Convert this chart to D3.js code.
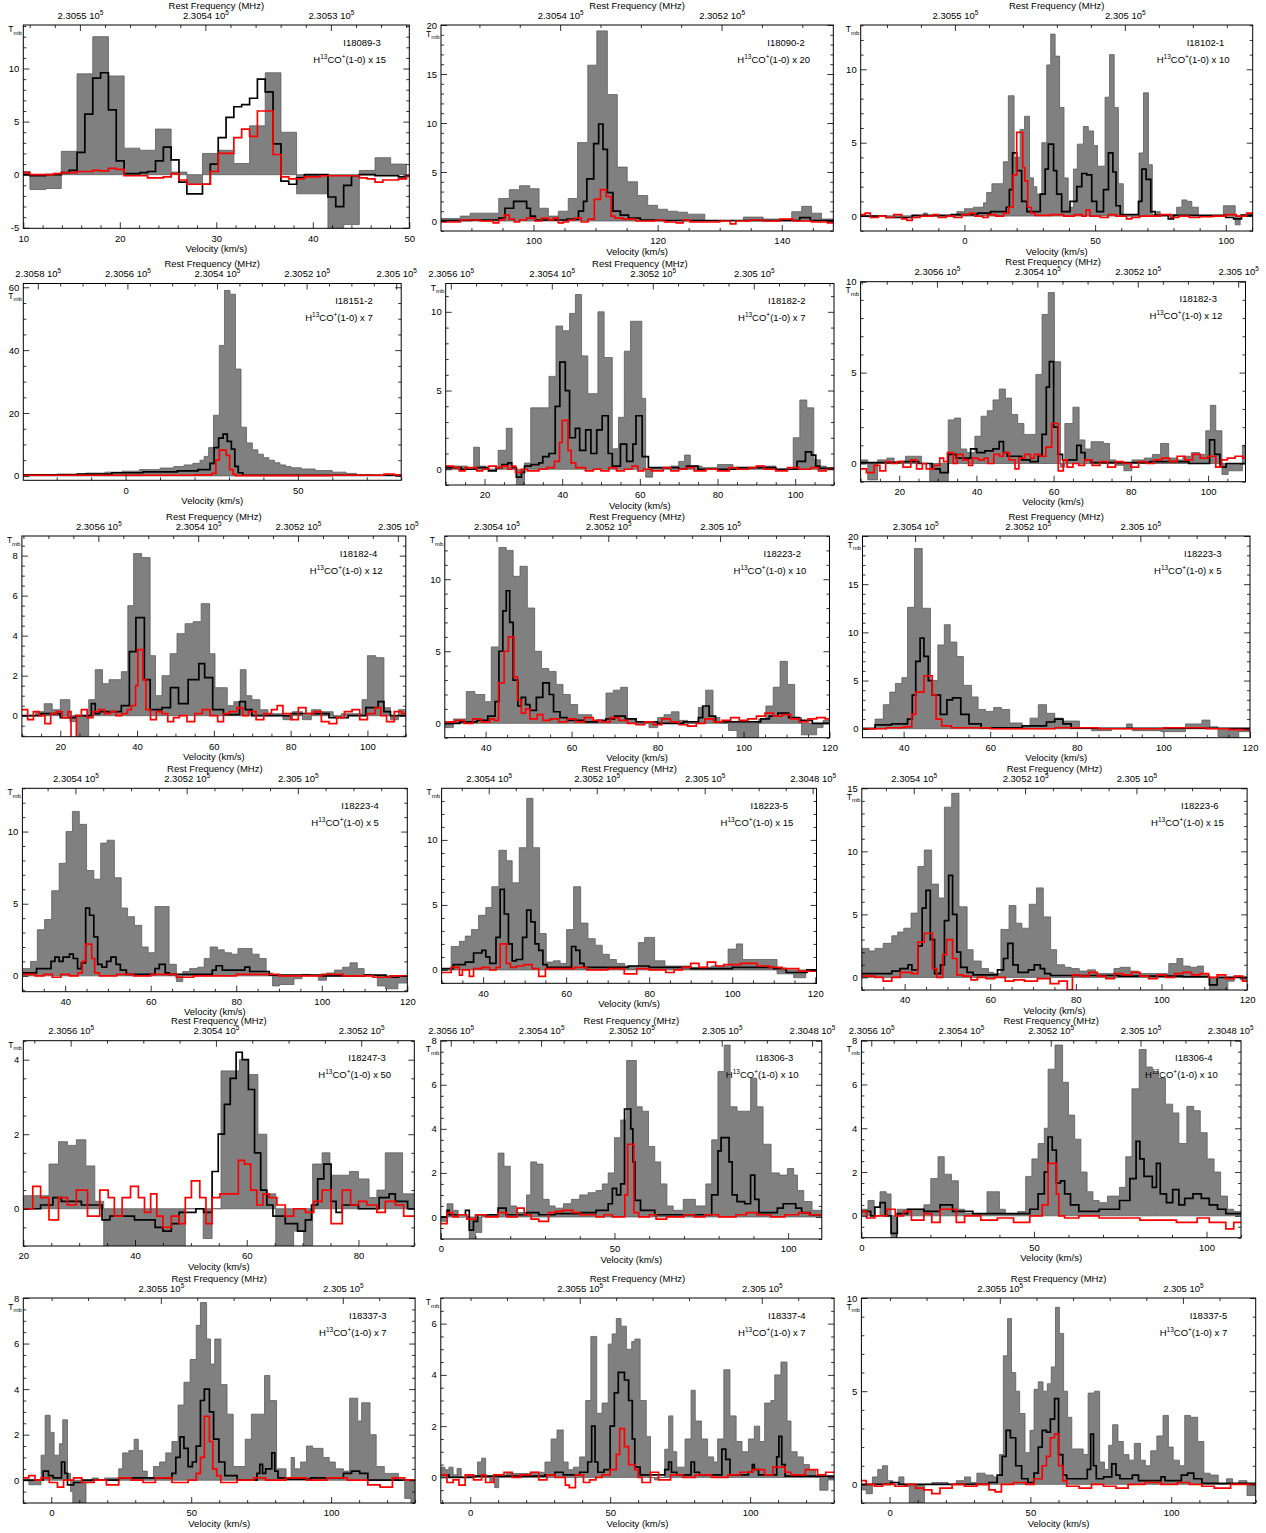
<!DOCTYPE html>
<html><head><meta charset="utf-8">
<script src="https://cdn.jsdelivr.net/npm/d3@7"></script>
<style>body{margin:0;background:#fff}svg text{font-family:"Liberation Sans",Arial,sans-serif;fill:#000}</style>
</head><body>
<svg id="c" width="1266" height="1533"></svg>
<script>
// ---------------- DATA ----------------
const panelNames = ['I18089-3','I18090-2','I18102-1','I18151-2','I18182-2','I18182-3','I18182-4','I18223-2','I18223-3','I18223-4','I18223-5','I18223-6','I18247-3','I18306-3','I18306-4','I18337-3','I18337-4','I18337-5'];
const lineFactors = [15,20,10,7,7,12,12,10,5,5,15,15,50,10,10,7,7,7];
const velDomains = [[10,50],[85.1,148.3],[-39.7,110.3],[-29.7,80],[10,110],[10,109.7],[10,110],[30.5,120],[30.5,120],[30,120],[30,120.3],[30,120],[20,90],[0,109.7],[0,110],[-10,130],[-10.5,130],[-10,130]];
const tmbDomains = [[-5.05,14.1],[-1.02,20],[-1.02,13.02],[-1.4,61.2],[-1,11.8],[-1,10],[-1.05,8.98],[-1,13],[-0.93,20],[-1.1,13],[-1.03,13.97],[-1,15],[-1,4.51],[-1,8],[-1,8],[-1,8],[-1,7],[-1,10]];
const velTickStep = [10,20,50,50,20,20,20,20,20,20,20,20,20,50,50,50,50,50];
const tmbTickStep = [5,5,5,20,5,5,2,5,5,5,5,5,2,2,2,2,2,5];
const freqAtV0 = [230562.2,230620.2,230547.2,230560.4,230568.7,230582.9,230583.0,230572.7,230572.8,230572.6,230571.8,230572.4,230581.9,230562.2,230562.2,230580.1,230580.1,230580.1];
const freqLabels = [
 [2.3055,2.3054,2.3053],[2.3054,2.3052],[2.3055,2.305],
 [2.3058,2.3056,2.3054,2.3052,2.305],[2.3056,2.3054,2.3052,2.305],[2.3056,2.3054,2.3052,2.305],
 [2.3056,2.3054,2.3052,2.305],[2.3054,2.3052,2.305],[2.3054,2.3052,2.305],
 [2.3054,2.3052,2.305],[2.3054,2.3052,2.305,2.3048],[2.3054,2.3052,2.305],
 [2.3056,2.3054,2.3052],[2.3056,2.3054,2.3052,2.305,2.3048],[2.3056,2.3054,2.3052,2.305,2.3048],
 [2.3055,2.305],[2.3055,2.305],[2.3055,2.305]];
const freqMinorMHz = [2,5,10,5,5,5,5,5,5,5,5,5,5,5,5,10,10,10];

// step spectra: [velocity of channel start, value]
const gray1=[[9.07,0.3],[10.69,-1.4],[12.32,-1.3],[13.94,2.2],[15.57,9.5],[17.2,13.0],[18.82,9.3],[20.45,2.5],[22.07,2.3],[23.7,4.3],[25.32,0.25],[26.95,-0.9],[28.57,2.0],[30.2,2.3],[31.82,1.05],[33.45,4.6],[35.07,9.6],[36.7,4.0],[38.32,-1.8],[41.57,-5.5],[43.2,-4.7],[44.82,0.4],[46.45,1.6],[48.07,1.0],[49.7,-0.2]];
const black1=[[9.07,0],[10.69,-0.1],[12.32,0],[13.94,0.2],[14.76,0.4],[15.57,2.1],[16.38,5.7],[17.2,9.1],[18.01,9.6],[18.82,6.1],[19.63,1.3],[20.45,0.1],[22.07,0.2],[22.88,0.3],[23.7,1.3],[24.51,2.6],[25.32,1.4],[26.13,-0.7],[26.95,-1.8],[28.57,-0.9],[29.38,1.0],[30.2,3.5],[31.01,5.4],[31.82,6.4],[32.63,6.6],[33.45,7.2],[34.26,9.0],[35.07,7.8],[35.88,2.9],[36.7,-0.6],[37.51,-0.9],[38.32,-0.3],[39.13,0],[41.57,-2.1],[42.38,-3.0],[43.2,-1.0],[44.01,-0.1],[44.82,0],[46.45,-0.1],[48.88,-0.2],[49.7,-0.1]];
const red1=[[9.07,0.3],[9.88,0.2],[10.69,0],[13.13,0.1],[13.94,0.2],[15.57,0.3],[17.2,0.4],[18.01,0.35],[18.82,0.6],[19.63,0.5],[20.45,-0.1],[22.88,-0.3],[24.51,-0.2],[25.32,0.1],[26.13,-0.5],[26.95,-0.9],[29.38,0.3],[30.2,2.0],[31.82,3.5],[32.63,4.3],[33.45,3.6],[34.26,6.0],[35.88,1.9],[36.7,-0.2],[37.51,-0.4],[39.13,-0.2],[40.76,-0.1],[44.82,-0.3],[45.63,-0.4],[46.45,-0.7],[47.26,-0.5],[48.88,-0.4],[49.7,-0.1]];

const gray2=[[85.1,0.25],[88.2,0.5],[89.8,0.8],[94.4,2.3],[96.1,3.2],[97.75,3.6],[99.4,3.3],[100.9,1.3],[102.4,0.5],[104.0,1.0],[105.6,2.3],[107.1,8.0],[108.75,15.9],[110.2,19.4],[111.9,12.9],[113.5,5.5],[115.1,4.0],[116.75,2.6],[118.4,1.6],[120.0,1.2],[121.6,1.0],[123.2,0.9],[124.8,0.7],[127.6,0.05],[133.8,0.4],[137.0,0.2],[141.6,0.95],[143.2,1.5],[144.8,0.8],[146.4,0.2]];
const black2=[[85.1,0.05],[90,0.1],[94.4,0.3],[95.4,1.3],[96.8,2.0],[98.9,1.3],[99.5,0.5],[100.3,0.1],[105.4,0.2],[107.25,1.0],[108.05,2.0],[108.6,4.3],[109.7,7.9],[110.5,9.9],[111.2,7.3],[111.9,2.9],[112.8,1.0],[114.0,0.6],[115.3,0.3],[117.2,0.1],[120,0.05],[142.9,0.35],[144.6,0.05]];
const red2=[[85.1,-0.1],[88.2,0.1],[91.4,0],[93.5,-0.2],[94.4,0.1],[95.3,0.6],[96.1,0.2],[96.9,-0.1],[97.75,0.1],[98.9,0.3],[100.3,0],[101.3,0.3],[102.4,0.1],[103.2,0.3],[104.0,-0.2],[104.8,-0.1],[105.6,0.1],[106.6,0.3],[107.7,-0.1],[108.8,0.2],[109.8,2.2],[110.8,3.2],[111.7,2.5],[112.5,0.5],[113.1,0.3],[114.4,0.2],[116.5,0],[119.7,0.1],[121.1,-0.1],[123,-0.2],[124.1,0.1],[125.2,-0.1],[130,0],[131.7,-0.3],[132.6,0],[134.8,0.1],[137,0],[139.7,0.2],[141.8,0],[144.8,-0.1],[147.4,-0.2]];

const gray3=[[-39.7,0],[-15.7,0.2],[-14.2,0],[-2.9,0.3],[0,0.5],[3.4,0.6],[7.3,0.9],[8.5,1.6],[10.5,2.2],[14.9,3.7],[16.8,8.2],[19.0,4.0],[21.3,5.9],[23.0,6.8],[24.9,2.6],[26.4,2.0],[27.7,1.5],[29.6,5.0],[31.5,10.3],[33.0,12.4],[34.7,10.9],[36.4,7.4],[38.1,2.6],[39.7,0.6],[41.7,3.2],[43.2,4.9],[45.5,6.1],[47.4,5.8],[49.4,4.8],[50.9,3.4],[53.8,8.1],[55.5,11.0],[57.3,7.4],[58.9,2.2],[60.8,0],[66.8,4.3],[68.5,8.4],[70.4,3.5],[71.9,0.1],[73.6,0.3],[74.9,0.1],[81.2,0.6],[83.2,1.1],[85.1,1.0],[87.0,0.6],[89.5,0],[99.1,0.7],[103.6,-0.6],[105.5,0.1]];
const black3=[[-39.7,0],[-30,-0.1],[-20,0.05],[-5,0.1],[5,0.2],[10,0.3],[16,0.6],[17.2,1.8],[18.4,4.3],[20.0,3.1],[21.9,1.0],[23.9,0.3],[29.0,1.5],[30.9,3.2],[32.1,4.9],[34.1,3.1],[35.3,1.5],[37.2,0.3],[40.4,1.0],[43.0,2.0],[44.9,2.9],[46.8,2.8],[48.7,1.0],[50.6,0.3],[53.2,1.8],[55.1,4.3],[56.8,3.0],[58.0,0.7],[59.6,0.1],[66.6,1.0],[67.9,3.2],[69.5,2.5],[71.3,0.3],[73.0,0.05],[78,-0.2],[80,0.05],[100,-0.1],[103,-0.2],[106,0.05]];
const red3=[[-39.7,0.1],[-38,0.2],[-36,-0.1],[-33,0],[-30,-0.1],[-27,0.1],[-24,-0.2],[-22,-0.3],[-20,-0.1],[-17,0],[-12,0.1],[-10,-0.1],[-7,0],[-4,-0.1],[-1,0.1],[2,0.2],[4,0],[7,-0.1],[9,0.1],[12,0],[15,0.2],[17,0.6],[18.6,2.8],[20.0,5.7],[22.3,3.3],[23.1,2.4],[24.2,0.6],[25.6,0.2],[27,0.05],[33,0.1],[38,0],[42,0.1],[45,0],[46.5,0.4],[48,0],[52,-0.1],[55,0.1],[58,0],[62,-0.2],[64,-0.1],[67,0],[75,0.1],[79,-0.1],[82,0],[86,-0.1],[90,-0.05],[95,0],[100,0.1],[104,0],[108,0.2]];

const gray4=[[-29.7,0.3],[-20,0.6],[-11.6,0.9],[-6,1.2],[-1,1.5],[4,2.0],[10,2.5],[14,3.0],[17,3.5],[19.5,4.0],[21.6,5.0],[22.8,6.2],[24.1,9.0],[25.5,19.3],[27.2,41.5],[28.7,59],[30.3,57.8],[31.9,34],[33.5,15.5],[35.1,10.5],[36.8,8.3],[38.4,6.9],[40,5.8],[41.6,5.0],[43.2,4.2],[44.8,3.5],[46.4,3.0],[48,2.6],[51,2.2],[55,1.7],[60,1.2],[64,0.8],[67,0.4],[72,0.2]];
const black4=[[-29.7,0.3],[-14,0.6],[-4,1.0],[5,1.3],[15,1.6],[21,2.0],[24.5,4.0],[25.7,9.0],[27.0,12.0],[28.3,13.3],[29.5,11.0],[30.7,8.5],[31.7,3.0],[32.7,1.0],[34,0.2]];
const red4=[[-29.7,0.2],[20,0.3],[25,0.8],[26.2,5.0],[27.2,8.2],[29.2,6.5],[30.2,2.0],[31.2,0.5],[32,0.1],[60,0.2],[75,0.6],[78,0.3]];

const gray5=[[10,0.2],[15.6,0],[17.2,1.4],[18.7,0.2],[20.3,0],[23.5,1.2],[25.6,2.6],[27.1,0],[28.2,-1.2],[30.3,0.4],[31.9,3.9],[36.6,5.9],[38.4,9.1],[40.1,8.8],[41.9,9.9],[43.4,11.1],[45.0,7.2],[46.6,4.8],[49.2,10.0],[50.8,7.1],[52.9,1.3],[54.5,3.3],[56.0,7.5],[57.6,9.4],[60.5,4.5],[61.5,-0.5],[63.3,0.1],[68,0.2],[70,0.5],[71.5,0.9],[73,0.2],[76,0.1],[80,0.3],[84,0.1],[90,0.2],[95,0.0],[99.5,2.0],[101.2,4.4],[103.0,3.9],[104.8,0.6],[106.5,0.2],[108,0.1]];
const black5=[[10,0.1],[14,0.0],[18,0.1],[21,-0.1],[23,0.1],[24.5,0.3],[26,0.4],[27,0.1],[28.2,-0.5],[29.5,-0.2],[30.3,0.2],[32,0.3],[34,0.4],[35,0.8],[36.6,1.0],[38.2,4.0],[39.4,6.8],[40.8,5.0],[41.9,2.0],[43.4,2.6],[44.5,1.2],[46.05,2.5],[47.4,1.0],[48.9,2.5],[50.3,3.4],[51.85,1.0],[52.9,0.2],[55,1.6],[56.6,0.5],[58.2,1.6],[59.0,3.4],[60.6,0.8],[62.2,0.1],[70,0.0],[72,0.2],[75,0],[85,0.1],[95,0.0],[100.5,0.5],[102.65,1.1],[104.2,0.9],[105.3,0.2],[106.3,0.05]];
const red5=[[10,0.2],[12,0.1],[13.5,-0.1],[15,0.1],[16.5,0.1],[18,-0.1],[19.5,0.0],[21,0.2],[23,0.1],[24.5,0.2],[26,0.0],[27,0.2],[28,-0.2],[29.5,0.0],[31,-0.1],[34,0.0],[36,0.1],[38,0.5],[39.3,1.7],[40.0,3.1],[41.5,1.2],[42.3,0.4],[43.5,0.1],[46,-0.1],[48,0],[50,-0.1],[52,0.1],[54,-0.1],[56,0],[58,0.2],[59.5,-0.1],[61,0],[63,-0.1],[66,0.1],[68,-0.1],[70,0.0],[72,0.1],[74,-0.1],[77,0],[80,-0.1],[83,0.1],[85,0],[88,0.1],[90,0.2],[92,0],[95,-0.1],[98,0.1],[101,0],[104,0.1],[106,-0.1],[108,0]];

const gray6=[[10,0.2],[11.85,-0.9],[14.4,0.2],[16.8,0.3],[18.7,0.1],[21.6,0.4],[25.8,0.0],[27.9,-1.5],[32.7,2.4],[34.3,2.5],[35.9,0.8],[37.5,0.6],[39.6,1.5],[41.2,2.6],[42.8,2.9],[44.3,3.5],[45.9,4.1],[47.5,3.6],[49.1,2.7],[50.7,2.2],[52.3,1.6],[55.4,4.9],[57.0,8.2],[58.6,9.4],[60.2,5.6],[61.8,-0.2],[62.9,2.2],[65.0,3.1],[66.6,1.3],[68.1,0.8],[69.7,1.2],[72.9,1.1],[74.5,0.2],[76.1,-0.1],[78.2,-0.4],[80.3,0.2],[83.5,0.3],[85.6,0.5],[87.7,1.1],[89.8,0.3],[92.0,0.2],[93.5,0.4],[95.7,0.6],[97.8,0.5],[99.4,1.8],[100.6,3.2],[102.0,1.8],[103.6,-0.6],[105.2,-0.4],[108.9,1.0]];
const black6=[[10,0.05],[20,0.1],[25,0.0],[28.5,-0.3],[30.6,-0.5],[32.7,0.5],[34.8,0.3],[38.5,0.8],[40.1,0.6],[42.2,0.7],[44.3,0.8],[45.9,1.2],[47.0,0.6],[48.0,0.4],[51.7,0.2],[53.9,0.1],[56.0,0.4],[57.0,1.6],[58.1,4.2],[58.9,5.6],[60.0,2.0],[61.1,0.5],[62.3,0.2],[66.0,1.0],[67.1,0.6],[68.1,0.2],[69.7,0.05],[85,0.1],[95,0.0],[100.4,1.3],[101.7,0.5],[103.1,-0.2],[104.7,0.0]];
const red6=[[10,-0.3],[11.5,-0.5],[13.5,-0.1],[15,-0.4],[16.5,0.1],[18,0.0],[19.5,0.1],[21,-0.2],[23,0.2],[24.5,-0.3],[26,0.0],[27,-0.3],[29,-0.1],[30.5,0.3],[31.5,0.1],[32.5,0.6],[34,0.0],[35,0.5],[36.5,0.2],[38,-0.1],[39,0.3],[40.5,0.2],[42,0.3],[43,0.0],[44.5,0.5],[46,0.4],[47,0.6],[48.5,0.2],[50,-0.3],[51,0.3],[52.5,0.5],[54,0.3],[55,0.5],[56.5,0.4],[58,0.9],[59.5,2.2],[61.2,-0.4],[62.5,0.2],[63.5,-0.2],[65,0.0],[66.5,-0.1],[68,0.2],[70,-0.1],[72,0.1],[74,-0.2],[76,0.1],[78,0.0],[80,-0.2],[82,0.1],[84,0.0],[86,0.2],[88,0.3],[90,0.1],[92,0.4],[94,0.2],[96,0.5],[98,0.3],[100,0.4],[102,-0.2],[103.5,0.2],[105,0.3],[107,0.4],[109,0.3]];

const gray7=[[10,0.0],[13.6,0.2],[15.8,0.6],[17.9,0.3],[20,0.8],[22.5,-0.3],[24.2,-1.2],[27.4,0.8],[29.1,2.3],[31.0,1.6],[32.7,1.8],[35.9,2.2],[37.6,5.5],[39.1,8.1],[41.2,7.9],[43.4,3.0],[44.8,1.0],[46.5,2.0],[48.6,3.1],[50.4,4.1],[52.5,4.6],[54.6,4.7],[56.7,5.6],[58.9,3.1],[60.3,1.4],[63.5,0.5],[65.2,0.7],[66.9,2.3],[68.4,1.0],[69.9,0.8],[72.0,0.3],[74.1,0.1],[78.0,-0.2],[80.5,0.2],[83.1,-0.2],[85.4,0.3],[87.9,0.2],[91.1,-0.1],[93.2,0.1],[98.6,0.8],[100.0,3.0],[102.2,2.9],[104.3,0.4],[106.0,-0.2],[108.1,0.3]];
const black7=[[10,0.0],[15,0.1],[20,-0.1],[24,0.0],[28.1,0.6],[29.1,0.1],[30.2,0.2],[35.9,0.5],[38.0,3.2],[39.7,4.9],[41.9,1.8],[43.4,0.3],[46.5,0.4],[48.7,1.4],[50.8,0.6],[53.3,1.8],[56.1,2.6],[57.6,1.9],[59.7,0.3],[62.5,0.05],[66.7,0.7],[68.2,0.3],[69.9,0.0],[80,0.1],[90,-0.1],[95,0.0],[99.6,0.4],[102.8,0.7],[104.3,0.2],[106,0.0]];
const red7=[[10,0.3],[11.5,-0.2],[13,0.2],[14.5,0.0],[16,-0.4],[17.5,0.1],[19,0.2],[20.5,-0.1],[22,0.2],[22.8,-1.2],[24.2,0.0],[25.5,0.3],[27,-0.1],[28.5,0.2],[30,0.3],[31.5,0.1],[33,0.2],[34.5,0.0],[36,0.1],[37.5,0.3],[38.5,0.5],[39.6,1.5],[40.2,3.3],[41.5,1.8],[42.3,0.3],[43.5,-0.2],[45,0.2],[46.5,0.1],[48,-0.3],[49.5,-0.1],[51,0.0],[53,-0.3],[55,0.1],[57,0.3],[59,0.0],[61,-0.3],[62.5,0.1],[64,0.2],[66,0.4],[67.5,0.0],[69,0.2],[71,-0.2],[73,0.1],[75,0.3],[76.5,0.5],[78,0.1],[80,-0.2],[82,0.4],[84,0.1],[86,0.2],[88,-0.3],[90,-0.4],[92,-0.1],[94,0.2],[96,0.3],[98,-0.2],[100,0.1],[102,0.4],[103.5,0.0],[105,-0.3],[107,0.2],[109,0.1]];

const gray8=[[30.5,-0.3],[32.5,0.3],[35.5,2.2],[37.5,2.0],[39.8,1.5],[41.3,5.3],[43.1,12.2],[44.8,12.0],[46.4,10.2],[48.0,10.9],[49.7,8.0],[51.4,5.0],[53.0,3.8],[54.7,3.6],[56.4,2.7],[58.0,2.0],[59.7,1.3],[61.4,0.6],[63.0,0.6],[64.7,0.1],[68.0,2.1],[69.7,2.3],[71.4,2.5],[73.0,0.3],[74.7,0.0],[78,-0.3],[80,0.4],[81.5,0.6],[83.2,0.8],[85,0.2],[87,0.0],[89.5,1.1],[91.2,2.3],[92.9,0.4],[94.5,0.0],[96.5,-0.5],[98.5,-1.2],[103.5,0.3],[105.2,1.2],[106.9,2.5],[108.5,4.3],[110.2,2.7],[111.9,0.4],[113.5,-0.8],[117,-0.3],[118.5,0.2]];
const black8=[[30.5,0.0],[34,0.1],[38,0.2],[40.5,0.5],[42.2,1.5],[43.1,5.0],[44.0,7.8],[44.8,9.2],[45.6,7.0],[46.4,3.0],[47.5,1.2],[48.3,1.8],[49.3,1.3],[50.3,0.9],[51.8,1.8],[53.3,2.8],[54.8,2.0],[55.8,0.8],[57.3,0.4],[59,0.2],[63,0.1],[66,0.2],[68,0.3],[70,0.5],[72.5,0.3],[75,0.1],[80,0.0],[86,0.1],[89.5,0.4],[90.5,1.2],[92,0.5],[93.5,0.1],[100,0.1],[104,0.3],[106,0.5],[108,0.7],[110.5,0.4],[113,0.2],[116,0.0]];
const red8=[[30.5,0.1],[33,0.2],[35,0.0],[37,0.3],[39,0.1],[41,0.3],[42,0.2],[43.0,2.8],[44.3,5.0],[45.3,6.0],[46.6,3.2],[47.4,1.6],[48.3,0.7],[49.3,1.0],[50.3,0.3],[52,0.6],[53.3,0.2],[55,0.3],[57,0.1],[59,0.3],[61,0.1],[63,0.4],[65,0.2],[67,0.1],[69,0.4],[71,0.2],[73,0.0],[75,-0.1],[77,0.1],[79,-0.1],[81,0.3],[83,0.1],[85,-0.1],[87,-0.2],[89,0.0],[91,0.3],[93,0.1],[95,0.2],[97,0.4],[99,0.2],[101,0.3],[103,0.5],[105,0.7],[107,0.5],[109,0.6],[111,0.3],[113,0.1],[115,0.3],[117,0.4],[119,0.3]];

const gray9=[[30.5,0.1],[33.4,1.0],[35.3,2.5],[36.8,3.8],[38.1,4.7],[39.6,5.3],[40.9,12.6],[42.5,18.7],[44.3,12.5],[46.2,5.0],[47.9,8.7],[49.4,10.8],[50.75,9.0],[52.3,7.5],[53.8,4.5],[55.7,3.3],[57.2,2.0],[58.9,1.8],[60.8,2.2],[62.6,2.0],[64.5,0.6],[67.4,0.2],[69.2,1.1],[71.1,2.5],[73.0,1.6],[74.9,1.1],[76.8,0.8],[80.6,0.1],[83.4,-0.2],[88,0.0],[91.5,0.5],[92.8,-0.2],[99.4,-0.3],[105.1,0.5],[108.9,0.9],[110.75,0.2],[112.6,-0.8],[114.5,-1.2],[117.4,-0.3]];
const black9=[[30.5,0.0],[33.4,0.4],[37.2,0.5],[40.9,1.0],[42.0,3.5],[42.8,7.0],[43.8,9.4],[44.7,7.5],[45.7,5.0],[46.6,3.5],[48.5,1.5],[50.0,3.0],[51.3,3.2],[53.2,1.5],[55.1,0.5],[57.9,0.1],[67.4,0.3],[73.0,0.7],[74.9,1.0],[76.8,0.5],[78.7,0.05]];
const red9=[[30.5,0.0],[36,0.1],[40,0.2],[41.9,1.5],[42.8,3.8],[44.7,5.5],[46.6,3.5],[47.5,1.0],[48.8,0.3],[51,0.1],[60,0.0],[75,0.1],[85,0.0],[100,0.1],[110,0.0],[115,-0.1]];

const gray10=[[30,0.5],[31.9,1.0],[33.5,3.2],[35.2,3.9],[36.85,5.9],[38.6,7.8],[40.2,10.0],[41.7,11.4],[43.3,10.5],[45.0,7.3],[46.7,6.7],[48.3,9.2],[49.8,9.4],[51.5,6.8],[53.1,4.7],[54.6,4.1],[56.2,3.5],[57.9,2.0],[59.4,1.6],[61.0,4.8],[62.6,4.8],[64.3,0.8],[66.0,-0.4],[67.5,0.3],[69.1,0.5],[71.0,0.6],[72.5,1.2],[73.9,2.0],[75.6,1.8],[77.2,1.6],[78.9,1.5],[80.4,1.9],[82.0,1.9],[83.7,1.5],[85.35,1.2],[87.0,0.2],[88.5,-0.7],[90.1,-0.6],[93.5,-0.2],[95.4,0.1],[97.3,0.0],[99.2,-0.3],[101.1,0.2],[103.0,0.4],[104.9,0.6],[106.6,0.9],[108.3,0.5],[109.9,0.1],[111.6,0.0],[113.0,-0.7],[114.9,-0.9],[117.8,-0.5]];
const black10=[[30,0.2],[33.3,0.5],[36.7,1.0],[37.6,1.3],[38.6,1.0],[39.5,1.3],[41.0,1.5],[41.9,1.2],[42.9,0.5],[43.8,0.9],[44.8,4.7],[45.7,4.2],[46.7,2.7],[47.6,0.8],[48.6,0.6],[49.7,1.0],[50.7,1.3],[51.9,0.8],[52.9,0.4],[54.3,0.1],[61.0,0.5],[62.0,0.8],[63.4,0.2],[64.3,0.1],[74.4,0.4],[75.3,0.7],[76.75,0.4],[82.0,0.6],[83.15,0.3],[87.7,0.05],[100,0.0],[110,0.05],[115,-0.1],[118,0.0]];
const red10=[[30,0.1],[33,0.0],[35,0.1],[37,-0.1],[39,0.1],[41,0.0],[43,0.2],[44,1.0],[44.8,2.2],[46.2,1.2],[46.9,0.2],[48,0.0],[52,0.1],[56,0.0],[60,0.1],[66,-0.1],[70,0.0],[80,0.1],[90,0.0],[100,0.1],[105,0.0],[112,-0.1],[116,0.0]];

const gray11=[[30,0.0],[32.3,1.8],[34.3,2.2],[35.7,2.6],[37.2,3.1],[38.9,4.2],[40.65,4.8],[42.1,6.4],[43.8,9.2],[45.6,8.4],[47.0,6.7],[48.7,9.4],[50.5,13.2],[52.0,9.4],[53.6,2.8],[55.2,0.6],[56.9,0.7],[58.55,0.5],[60.1,3.1],[61.8,6.4],[63.5,3.6],[65.25,2.4],[67.0,1.9],[68.7,1.2],[70.4,0.8],[72.1,0.5],[74.1,0.3],[77.4,2.1],[78.9,2.5],[81.3,0.7],[83.8,0.3],[90,0.2],[95,0.3],[99.0,1.6],[101.0,2.0],[102.5,0.8],[103.9,0.8],[110.8,-0.3],[114.8,-0.6],[117.7,0.0]];
const black11=[[30,0.1],[32.8,0.4],[35.7,0.6],[37.7,1.3],[39.7,1.5],[40.65,1.0],[41.6,0.5],[43.1,2.5],[44.1,6.2],[45.1,4.3],[46.1,2.0],[47.0,0.7],[48.0,0.8],[49.5,2.5],[50.5,4.6],[51.5,3.7],[52.5,2.0],[53.4,1.5],[54.4,0.4],[55.4,0.2],[61.3,1.8],[62.3,1.5],[63.3,0.5],[64.3,0.2],[75,0.3],[80,0.2],[90,0.1],[100,0.2],[110,0.1],[113,-0.2],[118,0.0]];
const red11=[[30,-0.2],[32.3,0.2],[34.3,-0.4],[35.0,0.0],[36.7,-0.5],[37.7,0.1],[39.7,0.2],[41.6,0.0],[43.1,0.2],[44.1,2.0],[45.6,0.5],[46.6,0.2],[48.0,0.3],[49.8,0.4],[51.8,0.1],[53.4,-0.5],[55.0,0.1],[58,0.1],[62,0.2],[65,0.0],[70,0.1],[74,-0.3],[77,0.1],[80,0.0],[84,-0.2],[86,0.0],[88,0.2],[90,0.5],[92,0.2],[94,0.6],[96,0.3],[98,0.4],[102,0.5],[106,0.3],[109,0.2],[112,0.1],[116,-0.1]];

const gray12=[[30,2.3],[31.7,2.1],[33.1,2.3],[35.0,2.7],[37.0,3.3],[38.4,3.6],[39.8,3.9],[41.5,5.1],[43.1,8.8],[44.6,10.1],[46.3,7.4],[47.9,6.3],[49.3,13.5],[51.0,14.6],[52.7,5.6],[54.6,2.2],[56.0,1.3],[57.9,0.7],[59.6,0.4],[60.8,0.3],[62.5,3.8],[64.4,5.7],[66.0,4.3],[67.4,3.9],[69.1,5.8],[70.8,7.1],[72.4,4.8],[74.1,2.2],[75.5,1.0],[77.4,0.8],[78.9,0.7],[80.8,0.5],[82.7,0.6],[84.6,0.3],[88.9,0.7],[90.3,0.8],[92.7,0.5],[94.6,0.3],[101.7,1.1],[103.6,1.5],[105.0,0.9],[106.7,0.8],[108.4,0.9],[109.8,0.2],[111.2,-1.3],[113.1,-1.0],[115.5,-0.3],[117.0,0.1],[118.4,-0.2]];
const black12=[[30,0.3],[37.0,0.5],[38.9,0.7],[40.8,1.0],[41.7,0.6],[43.1,2.5],[44.1,5.5],[45.0,6.9],[46.0,3.0],[47.0,0.3],[48.4,1.0],[49.3,4.5],[50.3,8.1],[51.2,5.0],[52.2,2.0],[53.1,0.8],[54.6,0.4],[56.0,0.2],[61.7,0.6],[63.1,1.5],[64.1,2.7],[65.3,1.0],[66.5,0.4],[68.9,0.6],[70.3,1.0],[71.7,0.7],[72.7,0.3],[74.1,0.15],[90,0.1],[105,0.05],[111.2,-0.6],[113,0.0]];
const red12=[[30,0.1],[33.1,0.0],[35.0,-0.3],[37.0,0.0],[39,0.4],[41.7,0.3],[43.1,2.8],[44.6,3.5],[46.5,0.7],[47.5,0.0],[48.9,1.8],[49.8,3.0],[51.2,1.5],[52.2,0.2],[53.6,0.1],[55.5,-0.2],[57,0.0],[59,-0.1],[61,0.0],[63.5,-0.3],[65.5,-0.2],[68,-0.3],[71,-0.1],[74,-0.5],[76,-0.3],[78,-1.0],[79.2,0.2],[81,0.1],[83,0.4],[85,0.1],[87,-0.1],[89,0.3],[91,0.2],[93,0.4],[95,0.1],[97,-0.1],[99,0.2],[101,0.0],[103,0.3],[105,0.4],[107,0.2],[109,0.3],[111,0.0],[113,0.2],[115,-0.1],[117,0.1],[119,-0.3]];

const gray13=[[20,0.35],[24.6,1.2],[26.3,1.8],[27.9,1.7],[29.5,1.85],[31.2,1.15],[32.8,0.2],[34.4,-1.5],[49.0,0.0],[52.2,-0.8],[53.8,0.0],[55.4,3.7],[58.7,4.0],[60.3,3.6],[62.0,2.0],[63.6,0.4],[65.2,-1.5],[68.4,-0.6],[70.2,-1.5],[71.8,1.2],[73.5,1.5],[74.9,0.9],[78.4,1.0],[80.0,0.8],[81.9,0.3],[83.3,0.5],[84.8,1.5],[87.9,0.4]];
const black13=[[20,0.0],[23.1,0.1],[25.3,0.3],[26.8,0.2],[30.4,0.1],[34.1,-0.3],[35.5,-0.2],[39.9,-0.3],[43.6,-0.5],[45.0,-0.6],[46.5,-0.4],[47.9,-0.1],[50.9,0.0],[52.3,-0.1],[53.8,1.0],[54.9,2.0],[56.0,2.8],[57.05,3.5],[58.1,4.2],[59.2,4.0],[60.3,3.2],[61.4,1.5],[62.5,0.5],[63.6,0.1],[64.7,-0.2],[66.9,-0.4],[69.1,-0.6],[70.5,-0.3],[71.6,0.1],[72.7,0.8],[73.8,1.2],[75.1,0.2],[76.0,-0.1],[77.1,0.1],[80.0,0.0],[83.7,0.3],[85.5,0.4],[86.6,0.2],[88.8,0.0]];
const red13=[[20,0.0],[21.7,0.6],[23.1,0.3],[24.6,-0.3],[26.3,0.3],[27.9,0.1],[29.5,0.5],[31.5,-0.2],[33.7,0.5],[35.2,0.3],[36.3,-0.2],[37.7,0.3],[39.2,0.6],[40.6,0.3],[41.7,-0.1],[42.8,0.4],[43.9,-0.2],[45.0,-0.5],[46.5,-0.2],[47.9,-0.4],[49.0,0.3],[50.1,0.75],[51.6,0.3],[52.7,-0.4],[53.8,0.3],[55.2,0.4],[58.5,1.3],[59.6,1.2],[60.7,0.5],[61.8,0.1],[62.9,0.4],[64.0,0.3],[65.4,0.1],[66.9,-0.2],[68.4,0.0],[70.5,-0.1],[72.0,0.2],[73.5,0.5],[75.1,-0.4],[77.1,0.5],[78.6,0.1],[80.0,0.2],[81.5,0.1],[83.3,-0.1],[84.8,0.2],[86.6,0.1],[88.1,-0.2]];

const gray14=[[0,-0.2],[1.8,0.6],[3.5,0.3],[5.0,0.0],[8.2,-1.5],[10.0,-0.7],[11.8,0.1],[16.5,2.9],[18.2,2.3],[20.0,0.5],[21.8,0.2],[24.7,1.0],[25.9,2.5],[27.6,2.4],[29.4,0.8],[31.2,0.5],[32.9,0.4],[35.3,0.6],[37.6,0.8],[40.0,1.0],[42.4,1.1],[44.7,1.2],[46.5,1.5],[48.2,2.0],[50.0,3.6],[51.8,4.4],[53.5,7.1],[56.3,5.0],[58.0,4.8],[59.8,3.2],[61.6,2.5],[63.3,1.5],[65.1,0.5],[66.9,0.3],[69.8,0.8],[73.3,0.5],[76.3,1.5],[78.0,3.5],[79.8,6.6],[81.6,7.8],[83.3,5.0],[85.3,4.8],[89.2,6.3],[91.0,5.0],[92.8,3.3],[95.1,2.0],[97.5,1.9],[99.8,2.2],[101.6,1.9],[102.7,1.2],[104.5,0.7],[106.9,0.3]];
const black14=[[0,0.0],[1.8,0.3],[2.4,0.1],[7.1,0.3],[8.2,-0.6],[9.4,-0.2],[10.6,0.1],[16.5,0.4],[18.8,0.1],[24.7,0.2],[28.2,0.1],[32.9,0.15],[40.0,0.2],[44.7,0.3],[48.2,0.6],[49.4,1.3],[50.6,1.0],[51.8,1.5],[52.9,4.9],[54.7,4.0],[55.3,2.5],[55.9,0.75],[57.5,0.3],[61.6,0.1],[78.0,1.0],[79.8,3.0],[80.7,3.6],[83.0,2.5],[83.9,1.0],[85.3,0.7],[87.5,0.6],[89.2,1.9],[90.4,0.8],[91.6,0.2],[96.9,0.4],[98.6,0.6],[102.2,0.4],[103.9,0.2],[106.3,0.1]];
const red14=[[0,-0.3],[1.8,0.2],[3.5,0.0],[5,0.1],[7.5,-0.1],[10,0.1],[13,0.0],[16.5,0.2],[19,0.0],[22,0.4],[24,0.1],[26,-0.1],[28.2,-0.2],[31,0.2],[33,0.25],[35,0.3],[38,0.2],[40,0.1],[44.7,0.0],[47,0.1],[49.4,0.0],[53.0,1.0],[53.8,3.3],[55.6,0.2],[57,0.0],[60,0.1],[62,-0.1],[65,0.0],[70,0.1],[73,0.0],[76,0.1],[80,0.0],[85,0.1],[88,0.2],[91,0.1],[95,0.0],[99,0.1],[103,0.2],[106,0.1]];

const gray15=[[0,0.3],[1.9,0.7],[3.7,0.0],[5.4,1.1],[7.2,1.0],[8.6,-1.5],[10.4,0.3],[18.1,0.5],[20.1,1.7],[22.2,2.7],[24.0,1.9],[26.1,1.6],[28.1,0.3],[29.9,0.1],[36.4,1.1],[38.2,1.1],[40.0,0.3],[41.7,0.1],[45.3,0.2],[47.6,1.8],[49.4,2.6],[51.2,3.3],[53.0,4.0],[54.1,6.7],[56.1,7.8],[58.3,6.1],[60.0,4.6],[61.8,3.5],[63.6,2.0],[65.4,1.1],[67.1,0.7],[68.9,0.6],[71.3,0.9],[74.8,1.3],[76.6,2.7],[78.4,5.8],[80.5,7.6],[82.5,6.8],[84.3,6.6],[86.05,6.3],[88.1,5.1],[90.2,4.7],[92.0,3.3],[94.3,5.0],[96.3,4.8],[98.2,3.8],[100.2,2.6],[102.2,2.0],[104.1,0.9],[106.1,0.3],[107.9,0.2]];
const black15=[[0,0.2],[2.7,0.0],[3.9,0.4],[5.4,0.6],[6.9,0.0],[8.6,-0.8],[10.4,0.1],[13.4,0.3],[18.1,0.2],[22.8,0.5],[26.4,0.2],[32.3,0.1],[48.8,0.3],[51.2,1.0],[53.0,2.0],[54.1,3.6],[55.3,3.0],[56.5,1.5],[57.7,1.6],[58.9,1.0],[60.6,0.5],[63.0,0.2],[68.9,0.3],[74.8,0.7],[77.8,1.7],[79.6,3.4],[80.7,2.6],[81.9,1.8],[84.3,1.3],[85.5,2.4],[86.6,1.0],[88.4,0.6],[90.2,1.2],[92.0,0.5],[93.7,0.8],[96.1,1.0],[98.5,0.8],[100.8,0.5],[103.2,0.3],[105.6,0.1]];
const red15=[[0,0.2],[1.5,-0.1],[3.9,0.0],[7.4,0.3],[9.8,0.0],[12.2,0.2],[14.5,-0.2],[18.1,0.1],[20.4,-0.3],[22.8,0.3],[27.5,-0.3],[29.9,0.0],[34.6,-0.2],[39.4,-0.1],[44.1,-0.3],[48.8,0.0],[52.4,0.5],[54.1,2.4],[56.5,1.0],[57.2,0.0],[58.9,-0.1],[63.0,0.0],[68.9,-0.1],[74.8,-0.1],[80.7,-0.2],[86.6,-0.2],[91.3,-0.3],[97.3,-0.1],[100.8,-0.3],[105.6,-0.6],[107.9,-0.3]];

const gray16=[[-10,0.0],[-8.0,-0.2],[-3.65,1.1],[-2.2,2.85],[-0.4,2.1],[1.0,1.1],[2.9,1.6],[4.1,2.65],[5.8,0.3],[6.9,-0.5],[7.7,-1.5],[12.4,-0.1],[14.6,0.1],[16.8,0.0],[19.0,0.1],[24.1,0.5],[25.5,1.2],[27.7,1.3],[29.6,1.8],[31.1,1.3],[32.6,0.4],[34.3,0.1],[36.5,0.6],[38.7,0.8],[40.9,1.2],[43.1,1.7],[45.3,3.3],[47.4,4.3],[49.6,5.3],[51.8,6.8],[53.3,7.8],[55.5,6.2],[56.9,5.1],[58.4,6.2],[60.6,4.2],[62.8,2.9],[65.0,0.6],[69.3,1.8],[71.5,2.9],[76.2,4.6],[78.1,3.5],[80.5,0.5],[83.9,0.1],[85.7,1.0],[86.9,0.5],[89.1,0.8],[91.2,1.5],[93.4,1.4],[97.1,1.0],[99.3,0.8],[101.5,0.5],[104.4,0.4],[106.6,3.6],[109.5,2.6],[110.9,3.4],[113.9,2.0],[116.1,0.6],[119.0,0.3],[124.1,0.0],[126.3,-0.8],[128.5,-1.5]];
const black16=[[-10,0.0],[-2.9,0.4],[-1.0,0.2],[0.7,0.1],[3.65,0.8],[4.8,0.3],[5.8,-0.2],[8.0,-0.1],[10.9,0.0],[24.1,0.1],[43.1,0.3],[44.5,1.0],[46.0,1.9],[47.4,1.4],[48.9,0.6],[50.4,0.8],[51.8,1.5],[53.3,3.5],[54.7,4.0],[56.5,3.0],[58.0,1.8],[59.9,0.8],[62.0,0.2],[66.4,0.0],[73.5,0.3],[74.5,0.7],[75.5,0.3],[76.6,0.5],[78.8,1.2],[79.9,0.4],[81.0,0.1],[83.9,0.05],[92.7,0.1],[104.4,0.3],[107.3,0.4],[110.2,0.3],[113.1,0.0]];
const red16=[[-10,0.1],[-8.0,0.2],[-5.8,0.0],[-3.6,0.1],[-0.7,-0.1],[2.2,-0.3],[4.4,0.0],[8.0,0.1],[10.9,-0.1],[15.3,0.0],[19.7,-0.2],[24.1,0.1],[28.5,0.0],[32.8,-0.1],[37.2,0.1],[43.1,-0.1],[48.9,0.0],[51.8,0.3],[53.3,1.0],[54.7,2.8],[56.5,1.7],[57.7,0.5],[59.1,0.2],[60.6,-0.1],[66.4,0.0],[72.3,0.1],[76.6,0.0],[83.9,0.1],[91.2,0.0],[98.5,0.1],[105.8,0.0],[113.1,-0.2],[117.5,-0.3],[121.9,0.1],[126.3,0.0]];

const gray17=[[-10.5,0.4],[-9.0,0.3],[-7.6,0.4],[-6.1,0.1],[-4.7,0.35],[-3.2,0.0],[-1.0,0.1],[1.2,0.0],[2.6,0.6],[4.1,0.75],[5.5,0.0],[7.0,-0.2],[8.75,-0.4],[10.2,0.0],[12.8,0.15],[21.6,0.2],[26.7,0.6],[28.9,1.5],[31.0,1.85],[33.25,0.6],[35.0,0.3],[36.9,0.4],[39.1,0.8],[41.25,3.0],[43.1,5.5],[45.2,2.5],[47.1,2.9],[49.3,5.2],[50.7,5.6],[52.2,6.2],[53.9,5.9],[55.8,5.0],[57.7,5.3],[58.8,5.4],[60.7,3.0],[62.9,1.6],[64.4,0.0],[65.8,-0.1],[67.3,0.0],[69.5,1.1],[70.9,2.4],[72.4,1.0],[73.8,0.4],[76.75,1.5],[78.9,3.4],[80.4,2.2],[82.6,1.5],[84.8,0.8],[87.0,0.6],[88.4,1.5],[90.6,4.2],[92.8,2.4],[95.0,1.4],[97.1,1.0],[99.4,1.5],[101.5,2.0],[103.4,1.4],[105.2,2.9],[107.4,3.0],[108.8,4.0],[111.0,4.5],[113.2,2.2],[114.6,1.0],[116.8,0.8],[119.0,0.5],[121.2,0.3],[123.4,0.0],[124.9,-0.5],[127.8,-0.1]];
const black17=[[-10.5,0.1],[-7.6,0.0],[1.2,0.05],[26.7,0.1],[30.3,0.2],[33.25,0.1],[39.1,0.2],[42.0,0.6],[43.4,2.0],[44.6,0.6],[45.6,0.2],[47.8,0.3],[50.0,2.0],[51.5,3.3],[52.9,4.1],[55.1,3.8],[56.6,3.0],[57.9,1.5],[58.8,0.4],[60.7,0.1],[69.5,0.3],[70.9,0.6],[71.9,0.2],[73.8,0.1],[78.9,0.6],[80.1,0.2],[81.9,0.1],[89.9,1.1],[91.3,0.7],[92.8,0.1],[99.4,0.2],[100.8,0.5],[101.5,0.3],[103.0,0.1],[109.5,0.8],[110.3,1.6],[111.3,0.5],[112.5,0.05]];
const red17=[[-10.5,0.1],[-8.3,-0.2],[-6.1,-0.1],[-4.0,-0.3],[-1.8,0.1],[1.2,-0.1],[4.1,0.1],[5.5,-0.2],[8.4,0.1],[12.1,0.2],[15.0,0.0],[17.9,0.1],[21.6,0.2],[24.5,-0.1],[27.4,0.1],[30.3,0.0],[34.0,-0.3],[35.4,-0.4],[37.6,0.1],[40.5,-0.2],[42.7,-0.1],[44.9,0.0],[47.1,0.1],[50.0,0.3],[52.2,0.9],[53.4,1.9],[55.1,1.2],[56.6,0.5],[58.75,0.3],[60,0.0],[61.4,-0.2],[64.4,0.2],[67.3,-0.1],[71.6,0.1],[76.0,0.0],[80.4,0.1],[86.2,0.0],[92.1,0.1],[96.4,0.2],[100.8,0.3],[105.2,0.1],[108.1,0.4],[112.5,0.2],[114.6,0.1],[119.7,0.3],[124.1,0.1],[127.0,0.2]];

const gray18=[[-10,-0.3],[-8.3,-0.5],[-6.1,0.4],[-4.2,0.8],[-2.5,1.0],[-0.7,0.2],[1.2,0.0],[3.3,0.4],[5.1,-0.1],[7.0,-1.5],[12.4,0.0],[15.0,0.1],[20.8,0.0],[23.7,0.2],[26.6,0.4],[28.8,0.1],[31.0,0.6],[33.9,0.5],[36.8,0.4],[39.0,1.6],[40.4,6.9],[41.9,8.9],[43.3,6.0],[44.8,5.0],[46.2,3.8],[48.1,1.7],[49.85,2.9],[51.3,5.1],[52.8,5.5],[54.5,5.0],[56.0,5.4],[57.4,6.3],[58.9,9.5],[60.3,8.1],[61.8,5.0],[63.2,3.6],[64.7,1.9],[68.75,1.6],[70.5,4.9],[72.8,5.0],[74.6,1.2],[76.3,0.8],[77.8,2.1],[79.2,3.2],[81.1,2.3],[83.0,1.6],[85.0,1.3],[86.9,2.2],[89.1,1.3],[90.8,1.0],[92.7,1.8],[94.9,2.6],[97.1,3.7],[99.0,2.0],[100.7,1.3],[102.9,1.0],[104.8,3.7],[106.8,3.6],[109.4,2.3],[111.6,0.6],[113.8,0.5],[116.7,0.0],[119.6,0.3],[121.8,0.0],[124.0,0.2],[126.9,-0.6]];
const black18=[[-10,0.0],[0.4,0.1],[3.3,0.0],[35.3,0.1],[38.2,0.5],[40.0,1.5],[41.4,2.9],[42.9,2.5],[44.8,1.0],[46.9,0.3],[49.1,0.1],[51.3,0.6],[52.8,2.0],[54.2,2.9],[55.7,2.8],[57.1,3.5],[58.6,4.6],[60.0,1.6],[61.5,0.5],[62.9,0.3],[70.2,0.8],[71.4,2.7],[72.4,1.0],[73.4,0.3],[76.0,0.4],[78.9,1.1],[80.4,0.5],[81.8,0.3],[86.2,0.5],[88.4,0.2],[96.4,0.4],[97.8,0.2],[103.6,0.5],[105.8,0.6],[108.0,0.3],[110.9,0.05]];
const red18=[[-10,0.2],[-8.3,0.0],[-5.4,-0.1],[-2.5,0.0],[1.9,-0.1],[6.25,0.0],[9.2,-0.2],[12.1,-0.3],[15.0,-0.5],[17.9,-0.2],[22.2,0.0],[26.6,-0.1],[31.0,0.0],[35.3,-0.3],[37.5,-0.4],[39.7,0.0],[44.0,0.1],[48.4,0.0],[51.3,0.3],[54.2,1.0],[55.7,1.5],[57.1,2.5],[58.6,2.7],[60.0,1.0],[61.5,0.2],[62.9,-0.1],[67.3,-0.2],[71.7,0.0],[76.0,-0.1],[80.4,-0.2],[84.7,0.0],[90.6,0.1],[96.4,0.0],[102.2,0.1],[106.5,0.0],[110.9,-0.1],[115.3,-0.2],[121.1,0.0]];

const grayData=[gray1,gray2,gray3,gray4,gray5,gray6,gray7,gray8,gray9,gray10,gray11,gray12,gray13,gray14,gray15,gray16,gray17,gray18];
const blackData=[black1,black2,black3,black4,black5,black6,black7,black8,black9,black10,black11,black12,black13,black14,black15,black16,black17,black18];
const redData=[red1,red2,red3,red4,red5,red6,red7,red8,red9,red10,red11,red12,red13,red14,red15,red16,red17,red18];

// ---------------- LAYOUT (page pixels) ----------------
const panelBoxes=[
 [23.3,25,409.3,228.3],[441,25,833.3,231],[860.7,25,1252.7,231],
 [23.3,283.5,401.2,480.3],[445.7,283.5,834,485],[860.6,281.7,1245.5,481.7],
 [21.9,536,405.8,736.7],[444.8,536,829.5,737.7],[862.5,536,1250,737.7],
 [22.4,788.3,407.3,991.7],[441.6,788.3,816.5,983.3],[861.8,788.3,1247.1,990],
 [23.3,1040.7,414.3,1246],[440.8,1040.7,821.8,1239],[861.4,1040.7,1241,1237.7],
 [23.3,1298,415.1,1503],[440.8,1298,834.1,1503],[861.4,1298,1255.7,1503]];
const FONT=9.5;
const K=299792.458/230538; // km/s per MHz

const svg=d3.select('#c');
function ticksIn(dom,step){const out=[];const a=Math.ceil((dom[0]-1e-6)/step);for(let n=a;n*step<=dom[1]+1e-6;n++)out.push(+(n*step).toFixed(6));return out;}
function minorOf(step){return step===20?5:step/5;}
function styleAxis(sel){sel.attr('font-size',FONT).attr('font-family','"Liberation Sans",Arial,sans-serif');sel.select('.domain').remove();sel.selectAll('.tick line').attr('stroke','#000').attr('stroke-width',0.8);}

for(let i=0;i<18;i++){
  const [x0,y0,x1,y1]=panelBoxes[i];
  const vd=velDomains[i], td=tmbDomains[i];
  const xs=d3.scaleLinear().domain(vd).range([x0,x1]);
  const ys=d3.scaleLinear().domain(td).range([y1,y0]);
  const g=svg.append('g');
  const cid='clip'+i;
  g.append('clipPath').attr('id',cid).append('rect').attr('x',x0).attr('y',y0).attr('width',x1-x0).attr('height',y1-y0);
  const plot=g.append('g').attr('clip-path',`url(#${cid})`);
  const ext=d=>{const a=d.slice();a.push([vd[1]+10,a[a.length-1][1]]);return a;};
  plot.append('path').datum(ext(grayData[i]))
    .attr('d',d3.area().curve(d3.curveStepAfter).x(d=>xs(d[0])).y0(ys(0)).y1(d=>ys(d[1])))
    .attr('fill','#808080').attr('stroke','#5c5c5c').attr('stroke-width',0.8);
  const line=d3.line().curve(d3.curveStepAfter).x(d=>xs(d[0])).y(d=>ys(d[1]));
  plot.append('path').datum(ext(blackData[i])).attr('d',line).attr('fill','none').attr('stroke','#000').attr('stroke-width',1.7);
  plot.append('path').datum(ext(redData[i])).attr('d',line).attr('fill','none').attr('stroke','#ff0000').attr('stroke-width',1.7);

  // axes: left / right (T_mb)
  const yMaj=ticksIn(td,tmbTickStep[i]);
  const yMin=ticksIn(td,tmbTickStep[i]===20?5:(tmbTickStep[i]===2?0.5:1)).filter(v=>!yMaj.includes(v));
  g.append('g').attr('transform',`translate(${x0},0)`).call(d3.axisLeft(ys).tickValues(yMaj).tickSize(-6).tickPadding(4).tickFormat(d=>String(d))).call(styleAxis);
  g.append('g').attr('transform',`translate(${x0},0)`).call(d3.axisLeft(ys).tickValues(yMin).tickSize(-3).tickFormat('')).call(styleAxis);
  g.append('g').attr('transform',`translate(${x1},0)`).call(d3.axisRight(ys).tickValues(yMaj).tickSize(-6).tickFormat('')).call(styleAxis);
  g.append('g').attr('transform',`translate(${x1},0)`).call(d3.axisRight(ys).tickValues(yMin).tickSize(-3).tickFormat('')).call(styleAxis);
  // bottom (velocity)
  const xMaj=ticksIn(vd,velTickStep[i]);
  const xMin=ticksIn(vd,minorOf(velTickStep[i])).filter(v=>!xMaj.includes(v));
  g.append('g').attr('transform',`translate(0,${y1})`).call(d3.axisBottom(xs).tickValues(xMaj).tickSize(-6).tickPadding(6.5).tickFormat(d=>String(d))).call(styleAxis);
  g.append('g').attr('transform',`translate(0,${y1})`).call(d3.axisBottom(xs).tickValues(xMin).tickSize(-3).tickFormat('')).call(styleAxis);
  // top (rest frequency)
  const fL=(freqAtV0[i]-vd[0]/K)/1e5, fR=(freqAtV0[i]-vd[1]/K)/1e5;
  const fs=d3.scaleLinear().domain([fL,fR]).range([x0,x1]);
  const fMin=[];const fm=freqMinorMHz[i];
  for(let m=Math.ceil(fR*1e5/fm)*fm;m<=fL*1e5;m+=fm){const v=m/1e5;if(!freqLabels[i].some(l=>Math.abs(l-v)<1e-7))fMin.push(v);}
  const top=g.append('g').attr('transform',`translate(0,${y0})`).call(d3.axisTop(fs).tickValues(freqLabels[i]).tickSize(-6).tickPadding(6.5).tickFormat(d=>String(d))).call(styleAxis);
  top.selectAll('.tick text').each(function(d){const t=d3.select(this);t.text(null);t.append('tspan').text(String(d)+' 10');t.append('tspan').attr('dy',-4).attr('font-size',6.5).text('5');});
  g.append('g').attr('transform',`translate(0,${y0})`).call(d3.axisTop(fs).tickValues(fMin).tickSize(-3).tickFormat('')).call(styleAxis);

  // frame
  g.append('rect').attr('x',x0).attr('y',y0).attr('width',x1-x0).attr('height',y1-y0).attr('fill','none').attr('stroke','#000').attr('stroke-width',1);

  // titles
  const cx=(x0+x1)/2;
  g.append('text').attr('x',cx).attr('y',y0-16.5).attr('text-anchor','middle').attr('font-size',FONT).text('Rest Frequency (MHz)');
  g.append('text').attr('x',cx).attr('y',y1+23.5).attr('text-anchor','middle').attr('font-size',FONT).text('Velocity (km/s)');
  // T_mb label: nudged just below the top tick label when that label sits near the top edge
  const topOff = ys(yMaj[yMaj.length-1]) - y0;
  const tmY = topOff < 8 ? y0 + topOff + 11.5 : y0 + 7;
  const tm=g.append('text').attr('x',x0-15).attr('y',tmY).attr('font-size',8.5);
  tm.append('tspan').text('T');tm.append('tspan').attr('dy',2.5).attr('font-size',6).text('mb');
  g.append('text').attr('x',x1-66).attr('y',y0+20.5).attr('font-size',FONT).text(panelNames[i]);
  const lt=g.append('text').attr('x',x1-96).attr('y',y0+37.5).attr('font-size',FONT);
  lt.append('tspan').text('H');lt.append('tspan').attr('dy',-4).attr('font-size',6.5).text('13');
  lt.append('tspan').attr('dy',4).text('CO');lt.append('tspan').attr('dy',-4).attr('font-size',6.5).text('+');
  lt.append('tspan').attr('dy',4).text('(1-0) x '+lineFactors[i]);
}
</script>
</body></html>
